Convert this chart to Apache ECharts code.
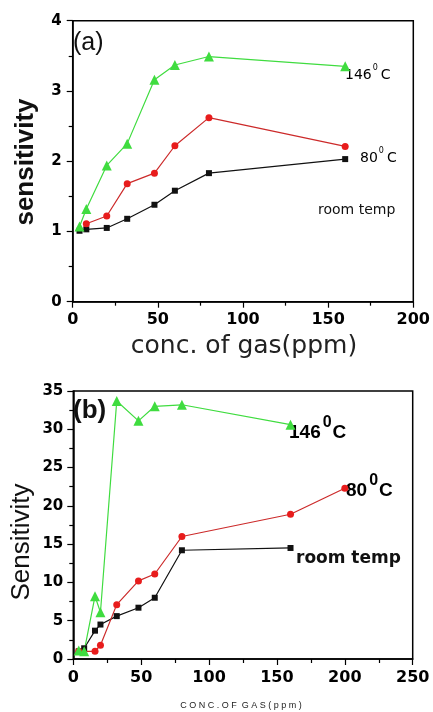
<!DOCTYPE html>
<html>
<head>
<meta charset="utf-8">
<script src="https://cdn.jsdelivr.net/npm/echarts@6/dist/echarts.min.js"></script>
<style>
  html, body { margin: 0; padding: 0; background: #fff; }
  #chart { width: 433px; height: 712px; }
</style>
</head>
<body>
<div id="chart"></div>
<script>
// panel (a)
var concRoomA = [4, 8, 20, 32, 48, 60, 80, 160];
var roomA = [1.01, 1.03, 1.05, 1.18, 1.38, 1.58, 1.83, 2.03];
var conc80A = [8, 20, 32, 48, 60, 80, 160];
var c80A = [1.11, 1.22, 1.68, 1.83, 2.22, 2.62, 2.21];
var conc146A = [4, 8, 20, 32, 48, 60, 80, 160];
var c146A = [1.07, 1.32, 1.94, 2.25, 3.16, 3.37, 3.49, 3.35];

// panel (b)
var concRoomB = [4, 8, 16, 20, 32, 48, 60, 80, 160];
var roomB = [1.0, 1.4, 3.7, 4.5, 5.6, 6.7, 8.0, 14.2, 14.5];
var conc80B = [4, 16, 20, 32, 48, 60, 80, 160, 200];
var c80B = [1.0, 1.0, 1.8, 7.1, 10.2, 11.1, 16.0, 18.9, 22.3];
var conc146B = [4, 8, 16, 20, 32, 48, 60, 80, 160];
var c146B = [1.1, 1.0, 8.2, 6.1, 33.7, 31.1, 33.0, 33.2, 30.6];

var xTicksA = [0, 50, 100, 150, 200];
var yTicksA = [0, 1, 2, 3, 4];
var xTicksB = [0, 50, 100, 150, 200, 250];
var yTicksB = [0, 5, 10, 15, 20, 25, 30, 35];

function pairs(xs, ys) {
    return xs.map(function (x, i) { return [x, ys[i]]; });
}

var chartDom = document.getElementById('chart');
var myChart = echarts.init(chartDom);

var tickFont = { color: '#000', fontFamily: 'DejaVu Sans', fontWeight: 'bold' };

function valueAxis(idx, ticks, fontSize, margin) {
    return {
        type: 'value',
        gridIndex: idx,
        min: ticks[0],
        max: ticks[ticks.length - 1],
        interval: ticks[1] - ticks[0],
        axisLine: { show: true, lineStyle: { color: '#000', width: 1.5 } },
        axisTick: { show: true, inside: false, length: 6, lineStyle: { color: '#000', width: 1.2 } },
        minorTick: { show: true, splitNumber: 2, length: 4, lineStyle: { color: '#000', width: 1.2 } },
        splitLine: { show: false },
        axisLabel: Object.assign({ fontSize: fontSize, margin: margin }, tickFont)
    };
}

var black = '#111111', red = '#e81c1c', green = '#3fdc3f';

function line(xi, xs, ys, color, symbol, size, lineColor) {
    return {
        type: 'line',
        xAxisIndex: xi,
        yAxisIndex: xi,
        data: pairs(xs, ys),
        symbol: symbol,
        symbolSize: size,
        itemStyle: { color: color },
        lineStyle: { color: lineColor || color, width: 1.2 },
        animation: false
    };
}

// labels with a raised "0" for the degree sign
var labA = { fontFamily: 'DejaVu Sans', fontSize: 14, color: '#111', lineHeight: 18, verticalAlign: 'bottom' };
var supA = { fontFamily: 'DejaVu Sans', fontSize: 8, color: '#111', lineHeight: 8, verticalAlign: 'top', padding: [0, 3, 0, 1] };
var labB = { fontFamily: 'Liberation Sans', fontWeight: 'bold', fontSize: 19, color: '#111', lineHeight: 27, verticalAlign: 'bottom' };
var supB = { fontFamily: 'Liberation Sans', fontWeight: 'bold', fontSize: 16, color: '#111', lineHeight: 16, verticalAlign: 'top', padding: [0, 1, 0, 2] };

var option = {
    backgroundColor: '#fff',
    grid: [
        { left: 72.7, top: 20.7, width: 343.3, height: 281, show: true, borderColor: '#000', borderWidth: 1.5 },
        { left: 73.3, top: 391, width: 339.4, height: 268, show: true, borderColor: '#000', borderWidth: 1.5 }
    ],
    xAxis: [
        valueAxis(0, xTicksA, 16, 10),
        valueAxis(1, xTicksB, 16, 11)
    ],
    yAxis: [
        valueAxis(0, yTicksA, 15, 11),
        valueAxis(1, yTicksB, 15, 10)
    ],
    series: [
        line(0, concRoomA, roomA, black, 'rect', 6),
        line(0, conc80A, c80A, red, 'circle', 7, '#cc2a2a'),
        line(0, conc146A, c146A, green, 'triangle', 10),
        line(1, concRoomB, roomB, black, 'rect', 6),
        line(1, conc80B, c80B, red, 'circle', 7, '#cc2a2a'),
        line(1, conc146B, c146B, green, 'triangle', 10)
    ],
    graphic: [
        // panel (a) texts
        { type: 'text', left: 73, top: 31, style: { text: '(a)', fontFamily: 'Liberation Sans', fontSize: 25, fill: '#111' } },
        { type: 'text', x: 25.5, y: 162, rotation: Math.PI / 2, style: { text: 'sensitivity', fontFamily: 'Liberation Sans', fontWeight: 'bold', fontSize: 26, fill: '#111', align: 'center', verticalAlign: 'middle' } },
        { type: 'text', x: 244, y: 346, style: { text: 'conc. of gas(ppm)', fontFamily: 'DejaVu Sans', fontSize: 25, fill: '#222', align: 'center', verticalAlign: 'middle' } },
        { type: 'text', x: 345, y: 64, style: { text: '{a|146}{s|0}{a|C}', rich: { a: labA, s: supA } } },
        { type: 'text', x: 360, y: 147, style: { text: '{a|80}{s|0}{a|C}', rich: { a: labA, s: supA } } },
        { type: 'text', x: 318, y: 203, style: { text: 'room temp', fontFamily: 'DejaVu Sans', fontSize: 14, fill: '#111' } },
        // panel (b) texts
        { type: 'text', left: 73, top: 398, style: { text: '(b)', fontFamily: 'Liberation Sans', fontWeight: 'bold', fontSize: 26, fill: '#111' } },
        { type: 'text', x: 22, y: 542, rotation: Math.PI / 2, style: { text: 'Sensitivity', fontFamily: 'Liberation Sans', fontSize: 26, fill: '#111', align: 'center', verticalAlign: 'middle' } },
        { type: 'text', x: 241, y: 706, style: { text: 'C O N C . O F  G A S ( p p m )', fontFamily: 'Liberation Sans', fontSize: 9, fill: '#222', align: 'center', verticalAlign: 'middle' } },
        { type: 'text', x: 289, y: 415, style: { text: '{a|146}{s|0}{a|C}', rich: { a: labB, s: supB } } },
        { type: 'text', x: 346, y: 473, style: { text: '{a|80}{s|0}{a|C}', rich: { a: labB, s: supB } } },
        { type: 'text', x: 296, y: 550, style: { text: 'room temp', fontFamily: 'DejaVu Sans', fontWeight: 'bold', fontSize: 17, fill: '#111' } }
    ]
};

if (option && typeof option === 'object') {
    myChart.setOption(option);
}
</script>
</body>
</html>
